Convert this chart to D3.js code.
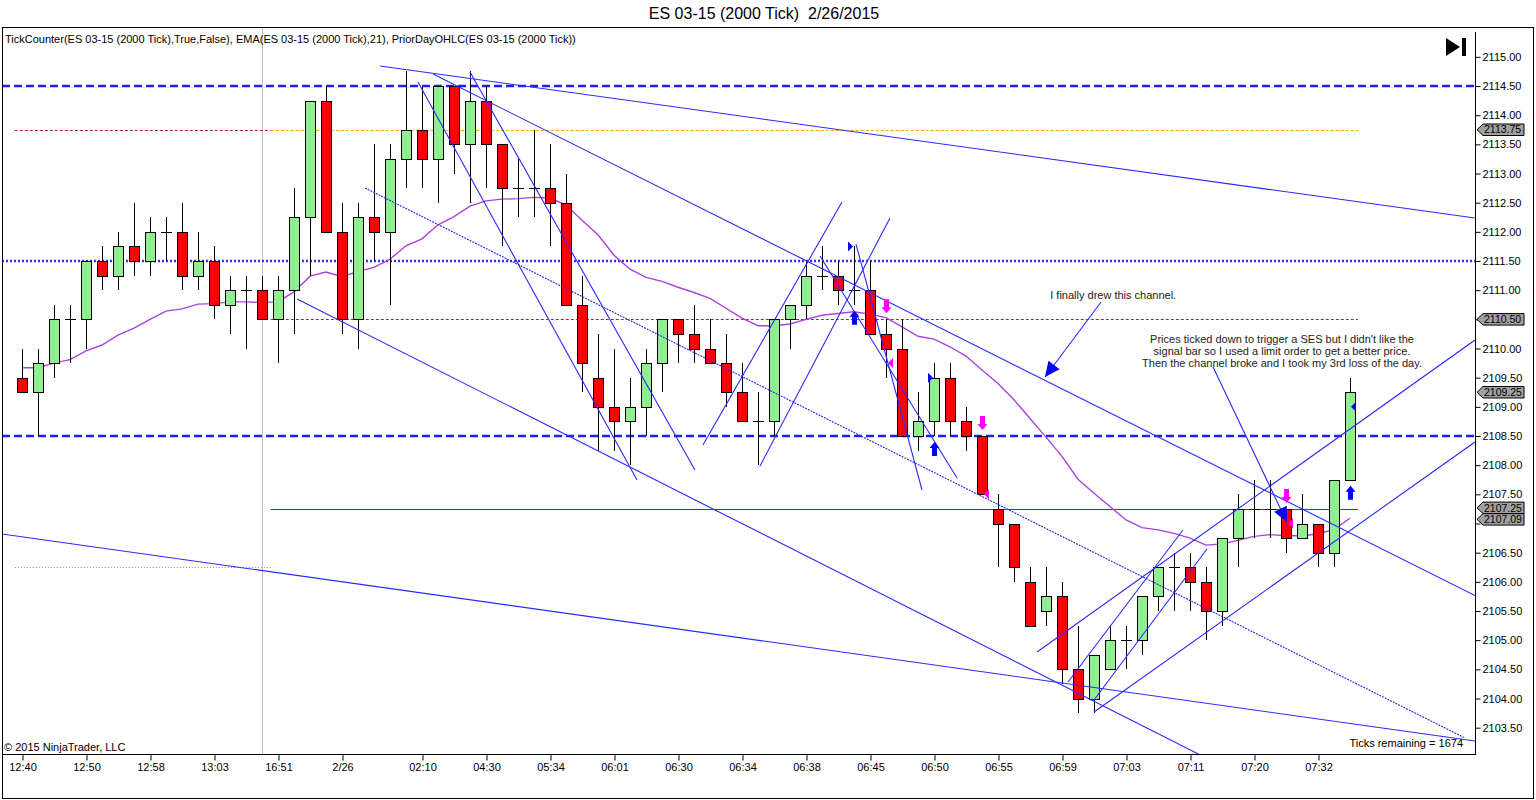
<!DOCTYPE html>
<html>
<head>
<meta charset="utf-8">
<script src="https://cdn.jsdelivr.net/npm/d3@7"></script>
<style>
  body { margin: 0; background: #fff; }
  text { font-family: "Liberation Sans", Arial, sans-serif; }
</style>
</head>
<body>
<svg id="chart" width="1536" height="800"></svg>
<script>
// ES 03-15 (2000 tick) bars
var opens  = [2109.5,2109.25,2109.75,2110.5,2110.5,2111.5,2111.25,2111.75,2111.5,2112.0,
              2112.0,2111.25,2111.5,2110.75,2111.0,2111.0,2110.5,2111.0,2112.25,2114.25,
              2112.0,2110.5,2112.25,2112.0,2113.25,2113.75,2113.25,2114.5,2113.5,2114.25,
              2113.5,2112.75,2112.75,2112.75,2112.5,2110.75,2109.5,2109.0,2108.75,2109.0,
              2109.75,2110.5,2110.25,2110.0,2109.75,2109.25,2108.75,2108.75,2110.5,2110.75,
              2111.25,2111.25,2111.0,2111.0,2110.25,2110.0,2108.5,2108.75,2109.5,2108.75,
              2108.5,2107.25,2107.0,2106.0,2105.5,2105.75,2104.5,2104.0,2104.5,2105.0,
              2105.0,2105.75,2106.25,2106.25,2106.0,2105.5,2106.75,2107.25,2107.25,2107.25,
              2106.75,2107.0,2106.5,2107.75];
var highs  = [2110.0,2110.0,2110.75,2110.75,2111.5,2111.75,2112.0,2112.5,2112.25,2112.25,
              2112.5,2112.0,2111.75,2111.25,2111.25,2111.25,2111.25,2112.75,2114.25,2114.5,
              2112.5,2112.5,2113.5,2113.5,2114.75,2114.5,2114.5,2114.5,2114.75,2114.5,
              2113.5,2113.25,2113.75,2113.5,2113.0,2111.25,2110.25,2110.0,2109.5,2110.0,
              2110.5,2110.5,2110.75,2110.5,2110.25,2109.75,2109.25,2110.5,2110.75,2111.5,
              2111.75,2111.5,2111.75,2111.5,2110.5,2110.5,2109.25,2109.75,2109.75,2109.0,
              2108.5,2107.5,2107.0,2106.25,2106.25,2106.0,2105.25,2104.75,2105.25,2105.25,
              2105.75,2106.25,2106.5,2106.5,2106.25,2106.75,2107.5,2107.75,2107.75,2107.25,
              2107.5,2107.0,2107.75,2109.5];
var lows   = [2109.25,2108.5,2109.5,2109.75,2110.0,2111.0,2111.0,2111.25,2111.25,2111.5,
              2111.0,2111.0,2110.5,2110.25,2110.0,2110.5,2109.75,2110.25,2111.25,2112.0,
              2110.25,2110.0,2111.5,2110.75,2112.75,2112.75,2112.5,2113.0,2112.5,2112.75,
              2111.75,2112.25,2112.25,2111.75,2110.75,2109.25,2108.25,2108.25,2108.0,2108.5,
              2109.25,2109.75,2109.75,2109.75,2109.0,2108.75,2108.0,2108.5,2110.0,2110.5,
              2111.0,2110.75,2110.75,2110.25,2109.5,2108.5,2108.25,2108.5,2108.5,2108.25,
              2107.5,2106.25,2106.0,2105.25,2105.25,2104.25,2103.75,2103.75,2104.5,2104.5,
              2104.75,2105.5,2105.5,2105.5,2105.0,2105.25,2106.25,2106.75,2106.75,2106.5,
              2106.75,2106.25,2106.25,2107.75];
var closes = [2109.25,2109.75,2110.5,2110.5,2111.5,2111.25,2111.75,2111.5,2112.0,2112.0,
              2111.25,2111.5,2110.75,2111.0,2111.0,2110.5,2111.0,2112.25,2114.25,2112.0,
              2110.5,2112.25,2112.0,2113.25,2113.75,2113.25,2114.5,2113.5,2114.25,2113.5,
              2112.75,2112.75,2112.75,2112.5,2110.75,2109.75,2109.0,2108.75,2109.0,2109.75,
              2110.5,2110.25,2110.0,2109.75,2109.25,2108.75,2108.75,2110.5,2110.75,2111.25,
              2111.25,2111.0,2111.0,2110.25,2110.0,2108.5,2108.75,2109.5,2108.75,2108.5,
              2107.5,2107.0,2106.25,2105.25,2105.75,2104.5,2104.0,2104.75,2105.0,2105.0,
              2105.75,2106.25,2106.25,2106.0,2105.5,2106.75,2107.25,2107.25,2107.25,2106.75,
              2107.0,2106.5,2107.75,2109.25];

// EMA(21) as drawn
var emaVals = [2109.67,2109.67,2109.75,2109.81,2109.96,2110.06,2110.23,2110.35,2110.50,2110.64,
               2110.68,2110.76,2110.77,2110.80,2110.80,2110.79,2110.80,2110.97,2111.24,2111.31,
               2111.23,2111.32,2111.39,2111.53,2111.76,2111.88,2112.12,2112.26,2112.44,2112.53,
               2112.56,2112.57,2112.59,2112.58,2112.46,2112.20,2111.95,2111.60,2111.36,2111.22,
               2111.15,2111.05,2110.96,2110.86,2110.69,2110.52,2110.39,2110.39,2110.42,2110.50,
               2110.57,2110.60,2110.63,2110.59,2110.53,2110.37,2110.21,2110.16,2110.03,2109.87,
               2109.63,2109.40,2109.12,2108.80,2108.48,2108.15,2107.76,2107.52,2107.29,2107.06,
               2106.93,2106.89,2106.83,2106.75,2106.63,2106.65,2106.71,2106.78,2106.81,2106.79,
               2106.79,2106.82,2106.90,2107.09];

// time axis
var tickBars   = [0,4,8,12,16,20,25,29,33,37,41,45,49,53,57,61,65,69,73,77,81];
var tickLabels = ["12:40","12:50","12:58","13:03","16:51","2/26","02:10","04:30","05:34","06:01",
                  "06:30","06:34","06:38","06:45","06:50","06:55","06:59","07:03","07:11","07:20","07:32"];
var priceMin = 2103.5, priceMax = 2115.0, priceStep = 0.5;
var sessionBreakBar = 15;

// horizontal levels
var dashedLevels = [2114.5, 2108.5];
var dottedLevels = [2111.5];
var priorLeftLevels  = [2113.75, 2106.25];          // before the session break
var priorRightLevels = [2113.75, 2110.5, 2107.25];  // after the session break
var priorSpanLeft  = [-0.45, 15.55];
var priorSpanRight = [15.55, 83.5];
var axisMarkers = [2113.75, 2110.50, 2109.25, 2107.25, 2107.09];

// drawn trend lines: [bar1, price1, bar2, price2]
var trendLines = [
  [22.375, 2114.843, 90.81, 2112.237],
  [25.69, 2114.706, 90.81, 2105.766],
  [17.19, 2110.849, 73.94, 2102.99],
  [24.75, 2114.569, 38.44, 2107.746],
  [28.0, 2114.74, 42.06, 2107.917],
  [42.56, 2108.346, 51.25, 2112.511],
  [46.125, 2107.986, 54.25, 2112.237],
  [52.125, 2111.791, 56.25, 2107.574],
  [49.875, 2111.586, 58.44, 2107.78],
  [63.44, 2104.797, 90.81, 2110.146],
  [67.0, 2103.768, 90.81, 2108.397],
  [65.375, 2104.283, 72.56, 2106.889],
  [67.0, 2103.974, 74.06, 2106.563],
  [-1.25, 2106.82, 90.81, 2103.271]
];
var channelMid = [21.44, 2112.751, 90.19, 2103.323];

// trade marks
var longBars  = [52, 57, 83];
var shortBars = [54, 60, 79];
var longFills  = [[52, 2111.75], [57, 2109.5]];
var exitFills  = [[83, 2109.0]];
var shortFills = [[54, 2109.75], [60, 2107.5], [79, 2107.0]];

// notes
var noteArrows = [
  [67.44, 2110.797, 63.94, 2109.511],
  [74.44, 2109.683, 79.06, 2107.02]
];
var note1 = ["I finally drew this channel."];
var note1At = [68.2, 2110.85];
var note2 = ["Prices ticked down to trigger a SES but I didn't like the",
             "signal bar so I used a limit order to get a better price.",
             "Then the channel broke and I took my 3rd loss of the day."];
var note2At = [78.75, 2110.1];

var W = 1536, H = 800;
var plot = { left: 2, top: 27, right: 1475, bottom: 754 };

var svg = d3.select("#chart");
svg.append("rect").attr("width", W).attr("height", H).attr("fill", "#fff");

var x = d3.scaleLinear().domain([0, 83]).range([22, 1350]);
var y = d3.scaleLinear().domain([2114.5, 2108.5]).range([86, 436]);

svg.append("defs").append("clipPath").attr("id", "plotclip")
  .append("rect").attr("x", plot.left).attr("y", plot.top)
  .attr("width", plot.right - plot.left).attr("height", plot.bottom - plot.top);

var g = svg.append("g").attr("clip-path", "url(#plotclip)");

// session break
g.append("line")
  .attr("x1", Math.round(x(sessionBreakBar)) + 0.5).attr("x2", Math.round(x(sessionBreakBar)) + 0.5)
  .attr("y1", plot.top).attr("y2", plot.bottom)
  .attr("stroke", "#c0c0c0").attr("stroke-width", 1);

// prior day OHLC
var leftStyles = [{c: "#a52a2a", d: "3,2"}, {c: "#909090", d: "1,2"}];
var rightStyles = [{c: "#ffa500", d: "3,2"}, {c: "#a52a2a", d: "3,2"}, {c: "#dd0000", d: null}];
priorLeftLevels.forEach(function(p, i) {
  g.append("line").attr("x1", x(priorSpanLeft[0])).attr("x2", x(priorSpanLeft[1]))
    .attr("y1", Math.round(y(p)) + 0.5).attr("y2", Math.round(y(p)) + 0.5)
    .attr("stroke", leftStyles[i].c).attr("stroke-dasharray", leftStyles[i].d);
});
priorRightLevels.forEach(function(p, i) {
  g.append("line").attr("x1", x(priorSpanRight[0])).attr("x2", x(priorSpanRight[1]))
    .attr("y1", Math.round(y(p)) + 0.5).attr("y2", Math.round(y(p)) + 0.5)
    .attr("stroke", rightStyles[i].c).attr("stroke-dasharray", rightStyles[i].d);
});

// blue levels
dashedLevels.forEach(function(p) {
  g.append("line").attr("x1", plot.left).attr("x2", plot.right)
    .attr("y1", y(p)).attr("y2", y(p))
    .attr("stroke", "#1f1fff").attr("stroke-width", 2.5).attr("stroke-dasharray", "8,4");
});
dottedLevels.forEach(function(p) {
  g.append("line").attr("x1", plot.left).attr("x2", plot.right)
    .attr("y1", y(p)).attr("y2", y(p))
    .attr("stroke", "#3030ff").attr("stroke-width", 2.5).attr("stroke-dasharray", "2,2");
});

// EMA
var emaLine = d3.line().x(function(d, i) { return x(i); }).y(function(d) { return y(d); });
g.append("path").datum(emaVals).attr("d", emaLine)
  .attr("fill", "none").attr("stroke", "#a845dc").attr("stroke-width", 1.4);

// candles
var bars = d3.range(opens.length).map(function(i) {
  return { i: i, o: opens[i], h: highs[i], l: lows[i], c: closes[i] };
});
var cg = g.append("g").attr("shape-rendering", "crispEdges");
var cs = cg.selectAll(".bar").data(bars).enter().append("g").attr("class", "bar");
cs.append("line")
  .attr("x1", function(d) { return x(d.i) + 0.5; }).attr("x2", function(d) { return x(d.i) + 0.5; })
  .attr("y1", function(d) { return Math.round(y(d.h)); })
  .attr("y2", function(d) { return Math.round(y(d.l)); })
  .attr("stroke", "#000");
cs.filter(function(d) { return d.o != d.c; }).append("rect")
  .attr("x", function(d) { return x(d.i) - 4.5; })
  .attr("width", 10)
  .attr("y", function(d) { return Math.round(y(Math.max(d.o, d.c))) + 0.5; })
  .attr("height", function(d) { return Math.round(y(Math.min(d.o, d.c))) - Math.round(y(Math.max(d.o, d.c))); })
  .attr("fill", function(d) { return d.c > d.o ? "#90ee90" : "#ff0000"; })
  .attr("stroke", "#000").attr("stroke-width", 1);
cs.filter(function(d) { return d.o == d.c; }).append("line")
  .attr("x1", function(d) { return x(d.i) - 5; }).attr("x2", function(d) { return x(d.i) + 6; })
  .attr("y1", function(d) { return Math.round(y(d.o)) + 0.5; })
  .attr("y2", function(d) { return Math.round(y(d.o)) + 0.5; })
  .attr("stroke", "#000");

// trend lines
g.selectAll(".trend").data(trendLines).enter().append("line").attr("class", "trend")
  .attr("x1", function(d) { return x(d[0]); }).attr("y1", function(d) { return y(d[1]); })
  .attr("x2", function(d) { return x(d[2]); }).attr("y2", function(d) { return y(d[3]); })
  .attr("stroke", "#2a2aff").attr("stroke-width", 1.1);
g.append("line")
  .attr("x1", x(channelMid[0])).attr("y1", y(channelMid[1]))
  .attr("x2", x(channelMid[2])).attr("y2", y(channelMid[3]))
  .attr("stroke", "#2a2aff").attr("stroke-width", 1.1).attr("stroke-dasharray", "2,1");

// note arrows
noteArrows.forEach(function(a) {
  var x1 = x(a[0]), y1 = y(a[1]), x2 = x(a[2]), y2 = y(a[3]);
  g.append("line").attr("x1", x1).attr("y1", y1).attr("x2", x2).attr("y2", y2)
    .attr("stroke", "#2a2aff").attr("stroke-width", 1.1);
  var ang = Math.atan2(y2 - y1, x2 - x1), len = 15, hw = 7;
  var bx = x2 - len * Math.cos(ang), by = y2 - len * Math.sin(ang);
  var px = -Math.sin(ang) * hw, py = Math.cos(ang) * hw;
  g.append("path")
    .attr("d", "M" + x2 + "," + y2 + "L" + (bx + px) + "," + (by + py) + "L" + (bx - px) + "," + (by - py) + "Z")
    .attr("fill", "#0000ff");
});

// trade arrows
function upArrow(cx, ty) {
  return "M" + cx + "," + ty + "l5,6h-2.5v8h-5v-8h-2.5z";
}
function downArrow(cx, by) {
  return "M" + cx + "," + by + "l5,-6h-2.5v-8h-5v8h-2.5z";
}
longBars.forEach(function(i) {
  g.append("path").attr("d", upArrow(x(i) + 0.5, y(lows[i]) + 6)).attr("fill", "#0000ff");
});
shortBars.forEach(function(i) {
  g.append("path").attr("d", downArrow(x(i) + 0.5, y(highs[i]) - 6)).attr("fill", "#ff00ff");
});
longFills.forEach(function(f) {
  var cx = x(f[0]), cy = y(f[1]);
  g.append("path").attr("d", "M" + (cx - 6) + "," + (cy - 5) + "L" + (cx - 1) + "," + cy + "L" + (cx - 6) + "," + (cy + 5) + "Z")
    .attr("fill", "#0000ff");
});
exitFills.forEach(function(f) {
  var cx = x(f[0]), cy = y(f[1]);
  g.append("path").attr("d", "M" + (cx + 6) + "," + (cy - 5) + "L" + (cx + 1) + "," + cy + "L" + (cx + 6) + "," + (cy + 5) + "Z")
    .attr("fill", "#0000ff");
});
shortFills.forEach(function(f) {
  var cx = x(f[0]), cy = y(f[1]);
  g.append("path").attr("d", "M" + (cx + 7) + "," + (cy - 5) + "L" + (cx + 2) + "," + cy + "L" + (cx + 7) + "," + (cy + 5) + "Z")
    .attr("fill", "#ff00ff");
});

// notes
g.selectAll(".n1").data(note1).enter().append("text")
  .attr("x", x(note1At[0])).attr("y", y(note1At[1]))
  .attr("text-anchor", "middle").attr("font-size", 11).attr("fill", "#222")
  .text(function(d) { return d; });
g.selectAll(".n2").data(note2).enter().append("text")
  .attr("x", x(note2At[0])).attr("y", function(d, i) { return y(note2At[1]) + i * 12; })
  .attr("text-anchor", "middle").attr("font-size", 11).attr("fill", "#222")
  .text(function(d) { return d; });

// frame
svg.append("line").attr("x1", 2).attr("x2", 1534).attr("y1", 27.5).attr("y2", 27.5).attr("stroke", "#000");
svg.append("line").attr("x1", 2.5).attr("x2", 2.5).attr("y1", 27).attr("y2", 799).attr("stroke", "#000");
svg.append("line").attr("x1", 1533.5).attr("x2", 1533.5).attr("y1", 27).attr("y2", 799).attr("stroke", "#000");
svg.append("line").attr("x1", 2).attr("x2", 1534).attr("y1", 798.5).attr("y2", 798.5).attr("stroke", "#000");
svg.append("line").attr("x1", 2).attr("x2", plot.right).attr("y1", plot.bottom + 0.5).attr("y2", plot.bottom + 0.5).attr("stroke", "#000");

// axis value boxes: keep them from stacking on each other
var boxH = 11.5;
var boxes = axisMarkers.map(function(p) { return { p: p, cy: y(p) }; })
  .sort(function(a, b) { return a.cy - b.cy; });
for (var k = 1; k < boxes.length; k++) {
  var gap = boxes[k].cy - boxes[k - 1].cy;
  if (gap < boxH) {
    var mid = (boxes[k].cy + boxes[k - 1].cy) / 2;
    boxes[k - 1].cy = mid - boxH / 2;
    boxes[k].cy = mid + boxH / 2;
  }
}

// price axis (labels hidden where a value box sits on them)
var priceTicks = d3.range(priceMin, priceMax + 0.001, priceStep);
var yAxisCall = d3.axisRight(y).tickValues(priceTicks).tickFormat(d3.format(".2f")).tickSize(5).tickPadding(2);
var ya = svg.append("g").attr("transform", "translate(" + (plot.right + 0.5) + ",0)").call(yAxisCall);
ya.select(".domain").remove();
ya.selectAll("text").attr("font-family", "Liberation Sans, Arial, sans-serif").attr("font-size", 11).attr("fill", "#000");
ya.selectAll(".tick").filter(function(d) {
  return boxes.some(function(b) { return Math.abs(b.cy - y(d)) < 9; });
}).select("text").remove();
svg.append("line").attr("x1", plot.right + 0.5).attr("x2", plot.right + 0.5)
  .attr("y1", 32).attr("y2", plot.bottom + 1).attr("stroke", "#000");

boxes.forEach(function(b) {
  var cy = b.cy, x0 = plot.right + 2, hh = boxH / 2;
  svg.append("path")
    .attr("d", "M" + x0 + "," + cy + "L" + (x0 + 6) + "," + (cy - hh) + "H" + (x0 + 47) + "V" + (cy + hh) + "H" + (x0 + 6) + "Z")
    .attr("fill", "#a0a0a0").attr("stroke", "#000").attr("stroke-width", 1);
  svg.append("text").attr("x", x0 + 7).attr("y", cy + 3.7).attr("font-size", 10.5).attr("fill", "#000")
    .text(d3.format(".2f")(b.p));
});

// time axis
var xAxisCall = d3.axisBottom(x).tickValues(tickBars)
  .tickFormat(function(d, i) { return tickLabels[i]; }).tickSize(6).tickPadding(3);
var xa = svg.append("g").attr("transform", "translate(0.5," + (plot.bottom + 0.5) + ")").call(xAxisCall);
xa.select(".domain").remove();
xa.selectAll("text").attr("font-family", "Liberation Sans, Arial, sans-serif").attr("font-size", 11).attr("fill", "#000");

// titles and labels
svg.append("text").attr("x", 764).attr("y", 19).attr("text-anchor", "middle")
  .attr("font-size", 16).attr("fill", "#000").text("ES 03-15 (2000 Tick)\u00a0 2/26/2015");
svg.append("text").attr("x", 5).attr("y", 43).attr("font-size", 11).attr("fill", "#000")
  .text("TickCounter(ES 03-15 (2000 Tick),True,False), EMA(ES 03-15 (2000 Tick),21), PriorDayOHLC(ES 03-15 (2000 Tick))");
svg.append("text").attr("x", 4).attr("y", 751).attr("font-size", 11).attr("fill", "#000")
  .text("\u00a9 2015 NinjaTrader, LLC");
svg.append("text").attr("x", 1463).attr("y", 747).attr("text-anchor", "end").attr("font-size", 11).attr("fill", "#000")
  .text("Ticks remaining = 1674");

// go-to-end button
svg.append("path").attr("d", "M1446,38L1460,47L1446,56Z").attr("fill", "#000");
svg.append("rect").attr("x", 1462).attr("y", 38).attr("width", 4).attr("height", 18).attr("fill", "#000");
</script>
</body>
</html>
